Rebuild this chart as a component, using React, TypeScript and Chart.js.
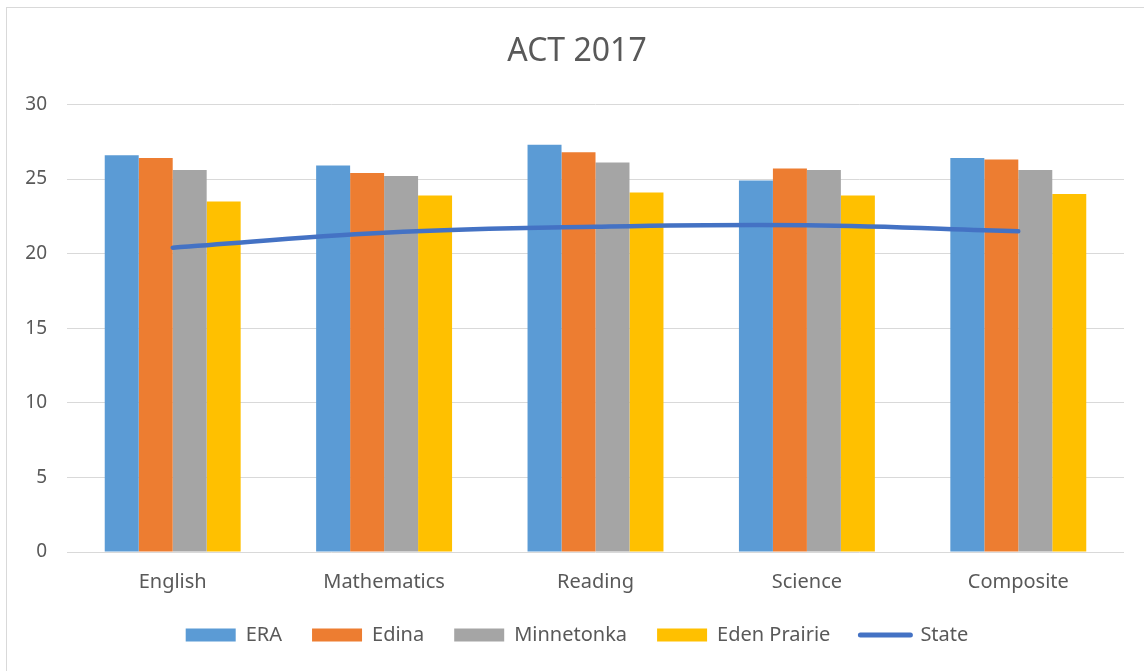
import React, { useEffect, useRef } from "react";
import { Chart, registerables } from "chart.js";

Chart.register(...registerables);

const categories = ["English", "Mathematics", "Reading", "Science", "Composite"];
const eraValues = [26.6, 25.9, 27.3, 24.9, 26.4];
const edinaValues = [26.4, 25.4, 26.8, 25.7, 26.3];
const minnetonkaValues = [25.6, 25.2, 26.1, 25.6, 25.6];
const edenPrairieValues = [23.5, 23.9, 24.1, 23.9, 24.0];
const stateValues = [20.4, 21.4, 21.8, 21.9, 21.5];

const FONT = "'Noto Sans', sans-serif";
const TEXT = "#595959";

export default function App() {
  const ref = useRef<HTMLCanvasElement | null>(null);

  useEffect(() => {
    if (!ref.current) return;
    const chart = new Chart(ref.current, {
      type: "bar",
      data: {
        labels: categories,
        datasets: [
          { type: "bar", label: "ERA", data: eraValues, backgroundColor: "#5B9BD5", borderWidth: 0, order: 1 },
          { type: "bar", label: "Edina", data: edinaValues, backgroundColor: "#ED7D31", borderWidth: 0, order: 2 },
          { type: "bar", label: "Minnetonka", data: minnetonkaValues, backgroundColor: "#A5A5A5", borderWidth: 0, order: 3 },
          { type: "bar", label: "Eden Prairie", data: edenPrairieValues, backgroundColor: "#FFC000", borderWidth: 0, order: 4 },
          {
            type: "line",
            label: "State",
            data: stateValues,
            borderColor: "#4472C4",
            backgroundColor: "#4472C4",
            borderWidth: 4.5,
            pointRadius: 0,
            tension: 0.4,
            borderCapStyle: "round",
            fill: false,
            order: 0,
          },
        ],
      },
      options: {
        responsive: false,
        animation: false,
        datasets: {
          bar: { categoryPercentage: 0.643, barPercentage: 1 },
        },
        layout: { padding: { left: 10, right: 0, top: 0, bottom: 16 } },
        plugins: {
          title: {
            display: true,
            text: "ACT 2017",
            color: TEXT,
            font: { family: FONT, size: 32, weight: "normal" },
            padding: { top: 33, bottom: 33 },
          },
          legend: {
            position: "bottom",
            labels: {
              color: TEXT,
              font: { family: FONT, size: 20 },
              usePointStyle: true,
              pointStyleWidth: 50,
              boxHeight: 13,
              padding: 30,
              sort: (a: any, b: any) => a.datasetIndex - b.datasetIndex,
              generateLabels: (c: any) => {
                const items = Chart.defaults.plugins.legend.labels.generateLabels(c);
                items.forEach((it: any) => {
                  if (it.datasetIndex === 4) {
                    it.pointStyle = "line";
                    it.lineWidth = 5;
                    it.lineCap = "round";
                    it.strokeStyle = "#4472C4";
                  } else {
                    it.pointStyle = "rect";
                    it.lineWidth = 0;
                  }
                });
                return items;
              },
            },
          },
          tooltip: { enabled: false },
        },
        scales: {
          x: {
            grid: { display: false },
            border: { display: false },
            ticks: { color: TEXT, font: { family: FONT, size: 20 }, padding: 10 },
            afterFit: (s: any) => {
              s.height = 43;
            },
          },
          y: {
            min: 0,
            max: 30,
            ticks: { stepSize: 5, color: TEXT, font: { family: FONT, size: 19 }, padding: 20 },
            grid: { color: "#D9D9D9", lineWidth: 1, drawTicks: false },
            border: { display: false },
            afterFit: (s: any) => {
              s.width = 57;
            },
          },
          yRight: {
            position: "right",
            display: true,
            grid: { display: false, drawTicks: false },
            border: { display: false },
            ticks: { display: false },
            afterFit: (s: any) => {
              s.width = 20;
            },
          },
        },
      },
    });
    return () => chart.destroy();
  }, []);

  return (
    <div
      style={{
        position: "fixed",
        left: 0,
        top: 0,
        width: 1144,
        height: 671,
        background: "#fff",
        overflow: "hidden",
      }}
    >
      <div
        style={{
          position: "absolute",
          left: 6,
          top: 7,
          width: 1200,
          height: 700,
          border: "1px solid #D9D9D9",
        }}
      />
      <canvas ref={ref} width={1144} height={671} style={{ position: "absolute", left: 0, top: 0 }} />
    </div>
  );
}
